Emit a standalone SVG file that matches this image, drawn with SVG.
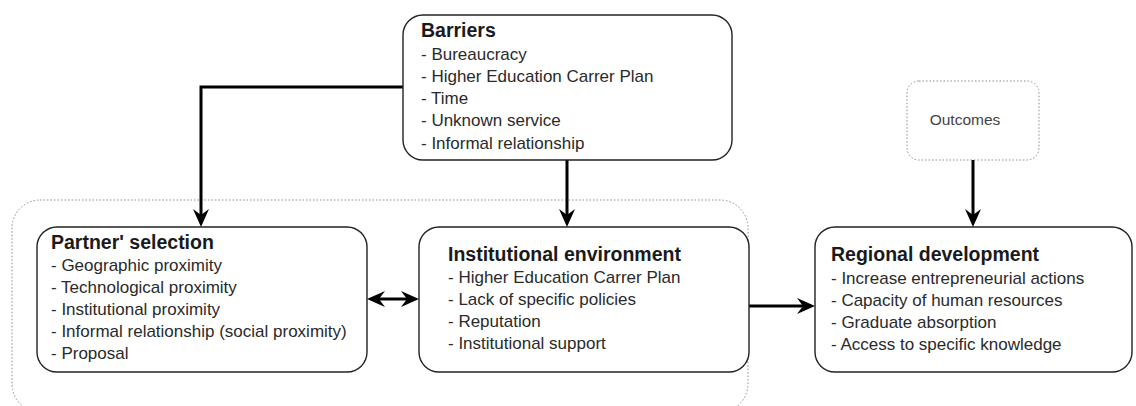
<svg xmlns="http://www.w3.org/2000/svg" width="1136" height="406" viewBox="0 0 1136 406">
  <style>
    .box { fill: #ffffff; stroke: #222222; stroke-width: 1.4; }
    .dotted { fill: none; stroke: #8a8a8a; stroke-width: 1; stroke-dasharray: 1.5 2; }
    .dotted-box { fill: #ffffff; stroke: #8a8a8a; stroke-width: 1; stroke-dasharray: 1.5 2; }
    .title { font-family: "Liberation Sans", Arial, sans-serif; font-size: 19.5px; font-weight: bold; fill: #1a1a1a; }
    .item { font-family: "Liberation Sans", Arial, sans-serif; font-size: 17px; fill: #2a2a2a; }
    .label { font-family: "Liberation Sans", Arial, sans-serif; font-size: 15.5px; fill: #444444; }
    .edge { fill: none; stroke: #000000; stroke-width: 3; }
  </style>
  <defs>
    <marker id="arrow" markerUnits="userSpaceOnUse" viewBox="0 0 18 16" refX="6" refY="8" markerWidth="18" markerHeight="16" orient="auto">
      <path d="M0,0 L18,8 L0,16 L6,8 Z" fill="#000000"/>
    </marker>
    <marker id="arrow-start" markerUnits="userSpaceOnUse" viewBox="0 0 18 16" refX="12" refY="8" markerWidth="18" markerHeight="16" orient="auto">
      <path d="M18,0 L0,8 L18,16 L12,8 Z" fill="#000000"/>
    </marker>
  </defs>

  <!-- dotted container around the two inner factors -->
  <rect id="context" class="dotted" x="12" y="200" width="736" height="212" rx="28" ry="28"/>

  <!-- connectors -->
  <g id="connectors">
    <path class="edge" d="M403,87 L201,87 L201,215" marker-end="url(#arrow)"/>
    <path class="edge" d="M567,160 L567,215" marker-end="url(#arrow)"/>
    <path class="edge" d="M973,160 L973,215" marker-end="url(#arrow)"/>
    <path class="edge" d="M379,299 L407,299" marker-start="url(#arrow-start)" marker-end="url(#arrow)"/>
    <path class="edge" d="M749,306 L803,306" marker-end="url(#arrow)"/>
  </g>

  <g id="barriers">
    <rect class="box" x="403" y="15" width="329" height="145" rx="20" ry="20"/>
    <text class="title" x="421" y="37">Barriers</text>
    <text class="item" x="421" y="59.5">- Bureaucracy</text>
    <text class="item" x="421" y="81.7">- Higher Education Carrer Plan</text>
    <text class="item" x="421" y="104">- Time</text>
    <text class="item" x="421" y="126.3">- Unknown service</text>
    <text class="item" x="421" y="148.5">- Informal relationship</text>
  </g>

  <g id="outcomes">
    <rect class="dotted-box" x="907" y="81" width="132" height="79" rx="12" ry="12"/>
    <text class="label" x="965" y="125" text-anchor="middle">Outcomes</text>
  </g>

  <g id="partner-selection">
    <rect class="box" x="37" y="227" width="330" height="145" rx="20" ry="20"/>
    <text class="title" x="51" y="248.5">Partner' selection</text>
    <text class="item" x="51" y="270.7">- Geographic proximity</text>
    <text class="item" x="51" y="292.8">- Technological proximity</text>
    <text class="item" x="51" y="314.9">- Institutional proximity</text>
    <text class="item" x="51" y="337">- Informal relationship (social proximity)</text>
    <text class="item" x="51" y="359">- Proposal</text>
  </g>

  <g id="institutional-environment">
    <rect class="box" x="419" y="227" width="330" height="145" rx="20" ry="20"/>
    <text class="title" x="448" y="260.5">Institutional environment</text>
    <text class="item" x="448" y="283">- Higher Education Carrer Plan</text>
    <text class="item" x="448" y="305">- Lack of specific policies</text>
    <text class="item" x="448" y="327">- Reputation</text>
    <text class="item" x="448" y="349">- Institutional support</text>
  </g>

  <g id="regional-development">
    <rect class="box" x="815" y="227" width="317" height="145" rx="20" ry="20"/>
    <text class="title" x="831" y="260.5">Regional development</text>
    <text class="item" x="831" y="284">- Increase entrepreneurial actions</text>
    <text class="item" x="831" y="306">- Capacity of human resources</text>
    <text class="item" x="831" y="328">- Graduate absorption</text>
    <text class="item" x="831" y="350">- Access to specific knowledge</text>
  </g>
</svg>
